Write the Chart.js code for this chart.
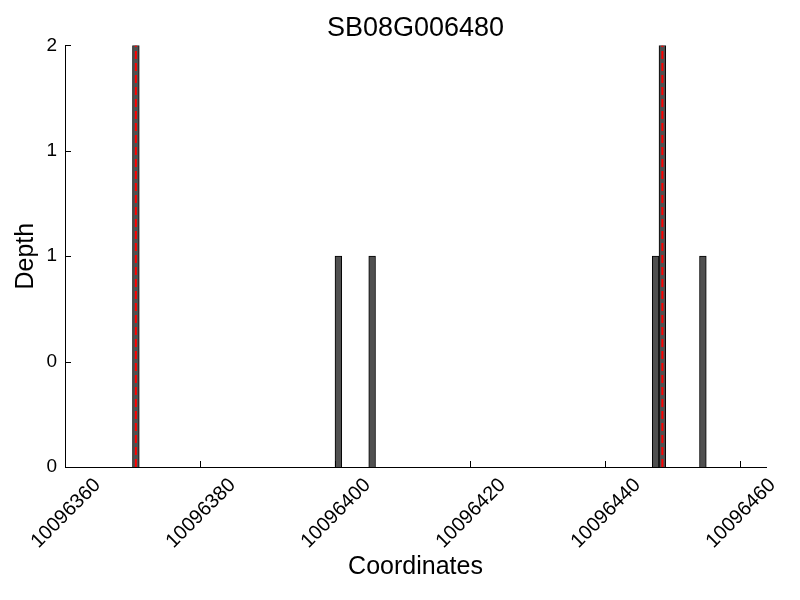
<!DOCTYPE html>
<html>
<head>
<meta charset="utf-8">
<script src="https://cdn.jsdelivr.net/npm/chart.js@4/dist/chart.umd.min.js"></script>
<style>
  html, body { margin: 0; padding: 0; background: #fff; }
  #chart { display: block; }
</style>
</head>
<body>
<canvas id="chart" width="800" height="600"></canvas>
<script>
// bin centres (each bin is one base wide) and read depth
const binCenters = [10096370.5, 10096400.5, 10096405.5, 10096447.5, 10096448.5, 10096454.5];
const depths = [2, 1, 1, 1, 2, 1];
// dashed markers at the highest bins
const peakCenters = [10096370.5, 10096448.5];
const peakDepth = 2;

const xTicks = [10096360, 10096380, 10096400, 10096420, 10096440, 10096460];
const yTicks = [0, 0.5, 1, 1.5, 2];
const yTickLabels = ['0', '0', '1', '1', '2'];

const fontFamily = '"Liberation Sans", Arial, Helvetica, sans-serif';
const tickFontSize = 19;
const xTickFontSize = 20;
Chart.defaults.color = '#000';
Chart.defaults.font.family = fontFamily;

// short tick marks pointing into the plot, x labels rotated about their centre,
// title centred over the plot area
const axisDecor = {
  id: 'axisDecor',
  afterLayout(chart) {
    const tb = chart.titleBlock;
    if (tb) {
      tb.left = chart.chartArea.left;
      tb.right = chart.chartArea.right;
      tb.width = tb.right - tb.left;
    }
  },
  afterDatasetsDraw(chart) {
    const { ctx, scales: { x, y }, chartArea } = chart;
    ctx.save();
    ctx.strokeStyle = '#000';
    ctx.lineWidth = 1;
    ctx.beginPath();
    x.ticks.forEach((t) => {
      const px = Math.round(x.getPixelForValue(t.value)) + 0.5;
      ctx.moveTo(px, chartArea.bottom);
      ctx.lineTo(px, chartArea.bottom - 6);
    });
    y.ticks.forEach((t) => {
      const py = Math.round(y.getPixelForValue(t.value)) + 0.5;
      ctx.moveTo(chartArea.left, py);
      ctx.lineTo(chartArea.left + 6, py);
    });
    ctx.stroke();

    ctx.fillStyle = '#000';
    ctx.font = `${xTickFontSize}px ${fontFamily}`;
    ctx.textAlign = 'center';
    ctx.textBaseline = 'middle';
    x.ticks.forEach((t) => {
      const label = String(t.value);
      const m = ctx.measureText(label);
      const h = m.actualBoundingBoxAscent + m.actualBoundingBoxDescent;
      const half = (m.width + h) / (2 * Math.SQRT2);
      const px = x.getPixelForValue(t.value);
      ctx.save();
      ctx.translate(px, chartArea.bottom + 9 + half);
      ctx.rotate(-Math.PI / 4);
      ctx.fillText(label, 0, (m.actualBoundingBoxAscent - m.actualBoundingBoxDescent) / 2);
      ctx.restore();
    });
    ctx.restore();
  },
};

const peakDatasets = peakCenters.map((pos) => ({
  type: 'line',
  data: [{ x: pos, y: 0 }, { x: pos, y: peakDepth }],
  borderColor: '#ff0000',
  borderWidth: 2,
  borderDash: [8, 4],
  pointRadius: 0,
  fill: false,
  order: 0,
}));

new Chart(document.getElementById('chart').getContext('2d'), {
  type: 'bar',
  data: {
    datasets: [{
      label: 'Depth',
      data: binCenters.map((pos, i) => ({ x: pos, y: depths[i] })),
      backgroundColor: '#505050',
      borderColor: '#000',
      borderWidth: 1,
      barPercentage: 1,
      categoryPercentage: 1,
      order: 1,
    }, ...peakDatasets],
  },
  options: {
    responsive: false,
    animation: false,
    layout: { padding: { top: 0, right: 34, bottom: 0, left: 0 } },
    plugins: {
      legend: { display: false },
      tooltip: { enabled: false },
      title: {
        display: true,
        text: 'SB08G006480',
        font: { size: 27, weight: 'normal' },
        padding: { top: 12, bottom: 1 },
      },
    },
    scales: {
      x: {
        type: 'linear',
        min: 10096360,
        max: 10096463.85,
        offset: false,
        grid: { display: false, drawTicks: false },
        border: { display: true, color: '#000', width: 1 },
        afterBuildTicks: (scale) => { scale.ticks = xTicks.map((v) => ({ value: v })); },
        afterFit: (scale) => { scale.height = 133; },
        ticks: { display: false },
        title: {
          display: true,
          text: 'Coordinates',
          font: { size: 25 },
          padding: { top: 4, bottom: 18 },
        },
      },
      y: {
        min: 0,
        max: 2,
        grid: { display: false, drawTicks: false },
        border: { display: true, color: '#000', width: 1 },
        afterBuildTicks: (scale) => { scale.ticks = yTicks.map((v) => ({ value: v })); },
        afterFit: (scale) => { scale.width = 65; },
        ticks: {
          padding: 8,
          font: { size: tickFontSize },
          callback: (v, i) => yTickLabels[i],
        },
        title: {
          display: true,
          text: 'Depth',
          font: { size: 25 },
          padding: { top: 11, bottom: 0 },
        },
      },
    },
  },
  plugins: [axisDecor],
});
</script>
</body>
</html>
